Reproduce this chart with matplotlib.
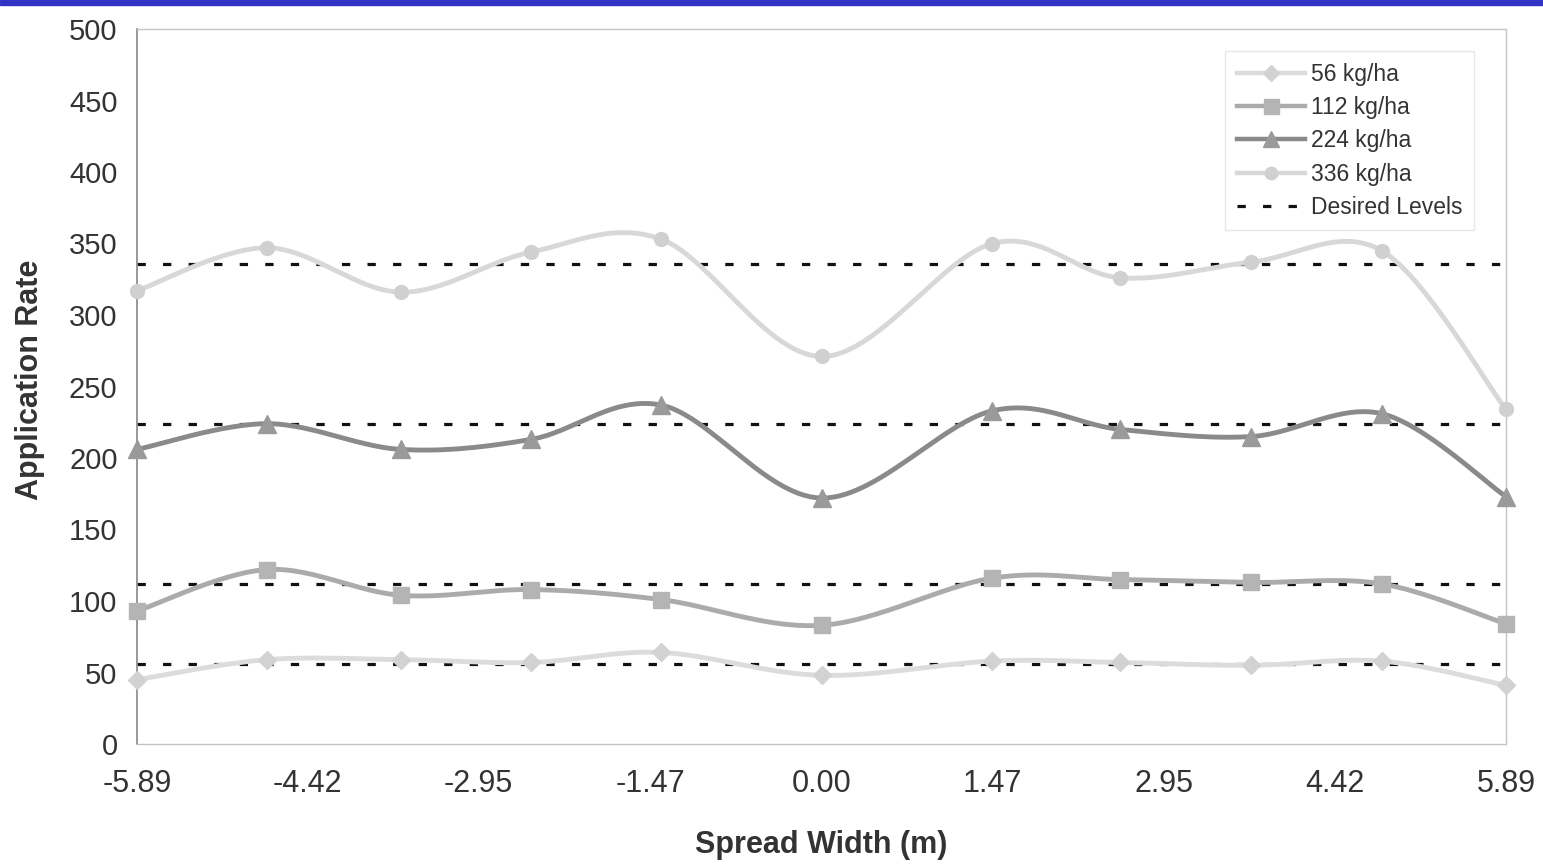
import numpy as np
import matplotlib
matplotlib.use("Agg")
import matplotlib.pyplot as plt
from matplotlib.lines import Line2D

# ---- data ----
x_pos = [-5.89, -4.77, -3.62, -2.50, -1.38, 0.00, 1.47, 2.57, 3.70, 4.82, 5.89]
rate_56 = [45, 59, 59, 57, 64, 48, 58, 57, 55, 58, 41]
rate_112 = [93, 122, 104, 108, 101, 83, 116, 115, 113, 112, 84]
rate_224 = [206, 224, 206, 213, 237, 172, 233, 220, 215, 231, 173]
rate_336 = [317, 347, 316, 344, 353, 271, 350, 326, 337, 345, 234]
desired_levels = [56, 112, 224, 336]
series_labels = ["56 kg/ha", "112 kg/ha", "224 kg/ha", "336 kg/ha"]
x_ticks = [-5.89, -4.42, -2.95, -1.47, 0.00, 1.47, 2.95, 4.42, 5.89]
y_ticks = [0, 50, 100, 150, 200, 250, 300, 350, 400, 450, 500]

plt.rcParams['font.family'] = ['Liberation Sans', 'DejaVu Sans']


def smooth(xs, ys, n=30):
    pts = np.column_stack([xs, ys]).astype(float)
    ext = np.vstack([pts[0], pts, pts[-1]])
    out = []
    t = np.linspace(0, 1, n)[:, None]
    for i in range(1, len(ext) - 2):
        p0, p1, p2, p3 = ext[i - 1], ext[i], ext[i + 1], ext[i + 2]
        c1 = p1 + (p2 - p0) / 6.0
        c2 = p2 - (p3 - p1) / 6.0
        seg = ((1 - t) ** 3) * p1 + 3 * ((1 - t) ** 2) * t * c1 + 3 * (1 - t) * t ** 2 * c2 + t ** 3 * p2
        out.append(seg if i == 1 else seg[1:])
    arr = np.vstack(out)
    return arr[:, 0], arr[:, 1]


W, H = 1543, 864
fig = plt.figure(figsize=(W / 100, H / 100), dpi=100)
fig.patch.set_facecolor("white")

# blue strip on top
fig.add_artist(plt.Rectangle((0, 1 - 5 / H), 1, 5 / H, transform=fig.transFigure,
                             color="#3333c8", zorder=10))

ax = fig.add_axes([137 / W, 1 - 744 / H, (1506 - 137) / W, (744 - 29) / H])
ax.set_xlim(-5.89, 5.89)
ax.set_ylim(0, 500)

# desired levels
for lvl in desired_levels:
    ax.axhline(lvl, color="#111111", lw=2.3, dashes=(2.6, 5.4), dash_capstyle="butt", zorder=2)

styles = [
    (rate_56, "#dcdcdc", "#d2d2d2", "D", 9),
    (rate_112, "#ababab", "#b4b4b4", "s", 12),
    (rate_224, "#8a8a8a", "#9a9a9a", "^", 13),
    (rate_336, "#d8d8d8", "#d0d0d0", "o", 10),
]
handles = []
for (vals, lc, mc, mk, ms), lab in zip(styles, series_labels):
    sx, sy = smooth(x_pos, vals)
    ax.plot(sx, sy, color=lc, lw=3.5, zorder=3, solid_capstyle="round", clip_on=False)
    ax.plot(x_pos, vals, ls="none", marker=mk, ms=ms, color=mc, mec=mc, zorder=4, clip_on=False)
    handles.append(Line2D([0], [0], color=lc, lw=3.2, marker=mk, ms=ms * 0.9, mfc=mc, mec=mc))
handles.append(Line2D([0], [0], color="#111111", lw=2.3, dashes=(2.6, 5.4), dash_capstyle="butt"))

leg = ax.legend(handles, series_labels + ["Desired Levels"], loc="upper right",
                bbox_to_anchor=(0.985, 0.985), fontsize=16.5, frameon=True, fancybox=False,
                handlelength=3.0, handletextpad=0.25, labelspacing=0.45, borderpad=0.5,
                markerscale=1.0, numpoints=1)
leg.get_frame().set_edgecolor("#e2e2e2")
leg.get_frame().set_linewidth(1.0)
for t in leg.get_texts():
    t.set_color("#333333")

ax.set_xticks(x_ticks)
ax.set_xticklabels([f"{v:.2f}" for v in x_ticks])
ax.set_yticks(y_ticks)
ax.tick_params(axis="x", length=0, pad=18, labelsize=22, labelcolor="#333333")
ax.tick_params(axis="y", length=0, pad=14, labelsize=21, labelcolor="#333333")

ax.spines["left"].set_color("#888888")
ax.spines["left"].set_linewidth(1.2)
for s in ["top", "right", "bottom"]:
    ax.spines[s].set_color("#c4c4c4")
    ax.spines[s].set_linewidth(1.0)
    ax.spines[s].set_linestyle((0, (1, 1)))

ax.set_xlabel("Spread Width (m)", fontsize=22, fontweight="bold", color="#333333")
ax.set_ylabel("Application Rate", fontsize=22, fontweight="bold", color="#333333")
ax.xaxis.set_label_coords(0.5, -0.141)
ax.xaxis.label.set_va("center")
ax.yaxis.set_label_coords(-0.078, 0.51)
ax.yaxis.label.set_va("center")

fig.savefig("out.png", dpi=100, facecolor="white")
